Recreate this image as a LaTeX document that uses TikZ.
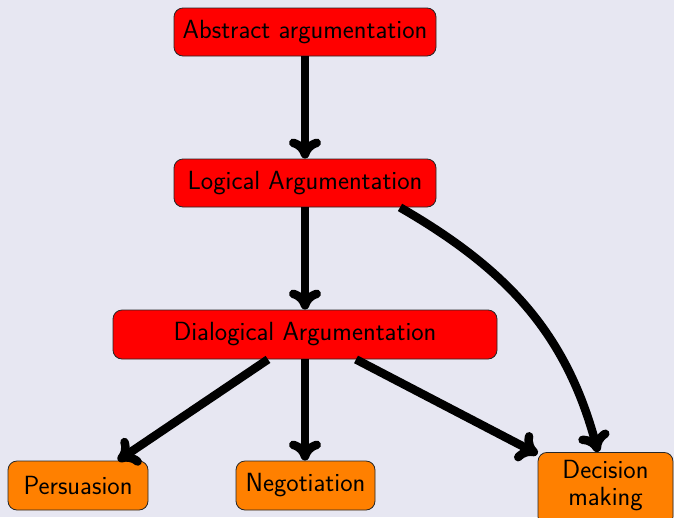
\documentclass[tikz,border=0pt]{standalone}
\usetikzlibrary{arrows.meta}
\definecolor{bgcol}{RGB}{231,231,242}
\definecolor{boxred}{RGB}{255,0,0}
\definecolor{boxorange}{RGB}{255,128,0}
\begin{document}
\begin{tikzpicture}[x=1pt,y=1pt,
  box/.style={draw=black!85,line width=0.8pt,rounded corners=9pt,
    font=\sffamily\fontsize{26.3}{27}\selectfont,inner sep=0pt,align=center},
  redbox/.style={box,fill=boxred,minimum height=48pt},
  orangebox/.style={box,fill=boxorange,minimum height=49pt},
  conn/.style={line width=8.5pt,-{Computer Modern Rightarrow[length=20pt,width=32pt]}}]
\fill[bgcol] (0,0) rectangle (674,-517);
\useasboundingbox (0,0) rectangle (674,-517);
\begin{scope}
\clip (0,0) rectangle (674,-517);
\node[redbox,minimum width=262pt] (A) at (305,-32) {Abstract argumentation};
\node[redbox,minimum width=262pt] (L) at (305,-183) {Logical Argumentation};
\node[redbox,minimum width=384pt,minimum height=49pt] (D) at (305,-334.5) {Dialogical Argumentation};
\node[orangebox,minimum width=140pt] (P) at (78,-485.5) {Persuasion};
\node[orangebox,minimum width=139pt] (N) at (305.5,-485.5) {Negotiation};
\node[orangebox,minimum width=135pt,minimum height=0pt,inner ysep=8pt,text depth=12pt,anchor=north] (C) at (605.5,-452)
  {Decision\\making};
\draw[conn] (A.south) -- (L.north);
\draw[conn] (L.south) -- (D.north);
\draw[conn] ([xshift=95pt]L.south) to[out=-30,in=105] ([xshift=-7.5pt]C.north);
\draw[conn] ([xshift=-37pt]D.south) -- ([xshift=40pt]P.north);
\draw[conn] (D.south) -- ([xshift=-0.5pt]N.north);
\draw[conn] ([xshift=51pt]D.south) -- ([yshift=-2pt]C.north west);
\end{scope}
\end{tikzpicture}
\end{document}
